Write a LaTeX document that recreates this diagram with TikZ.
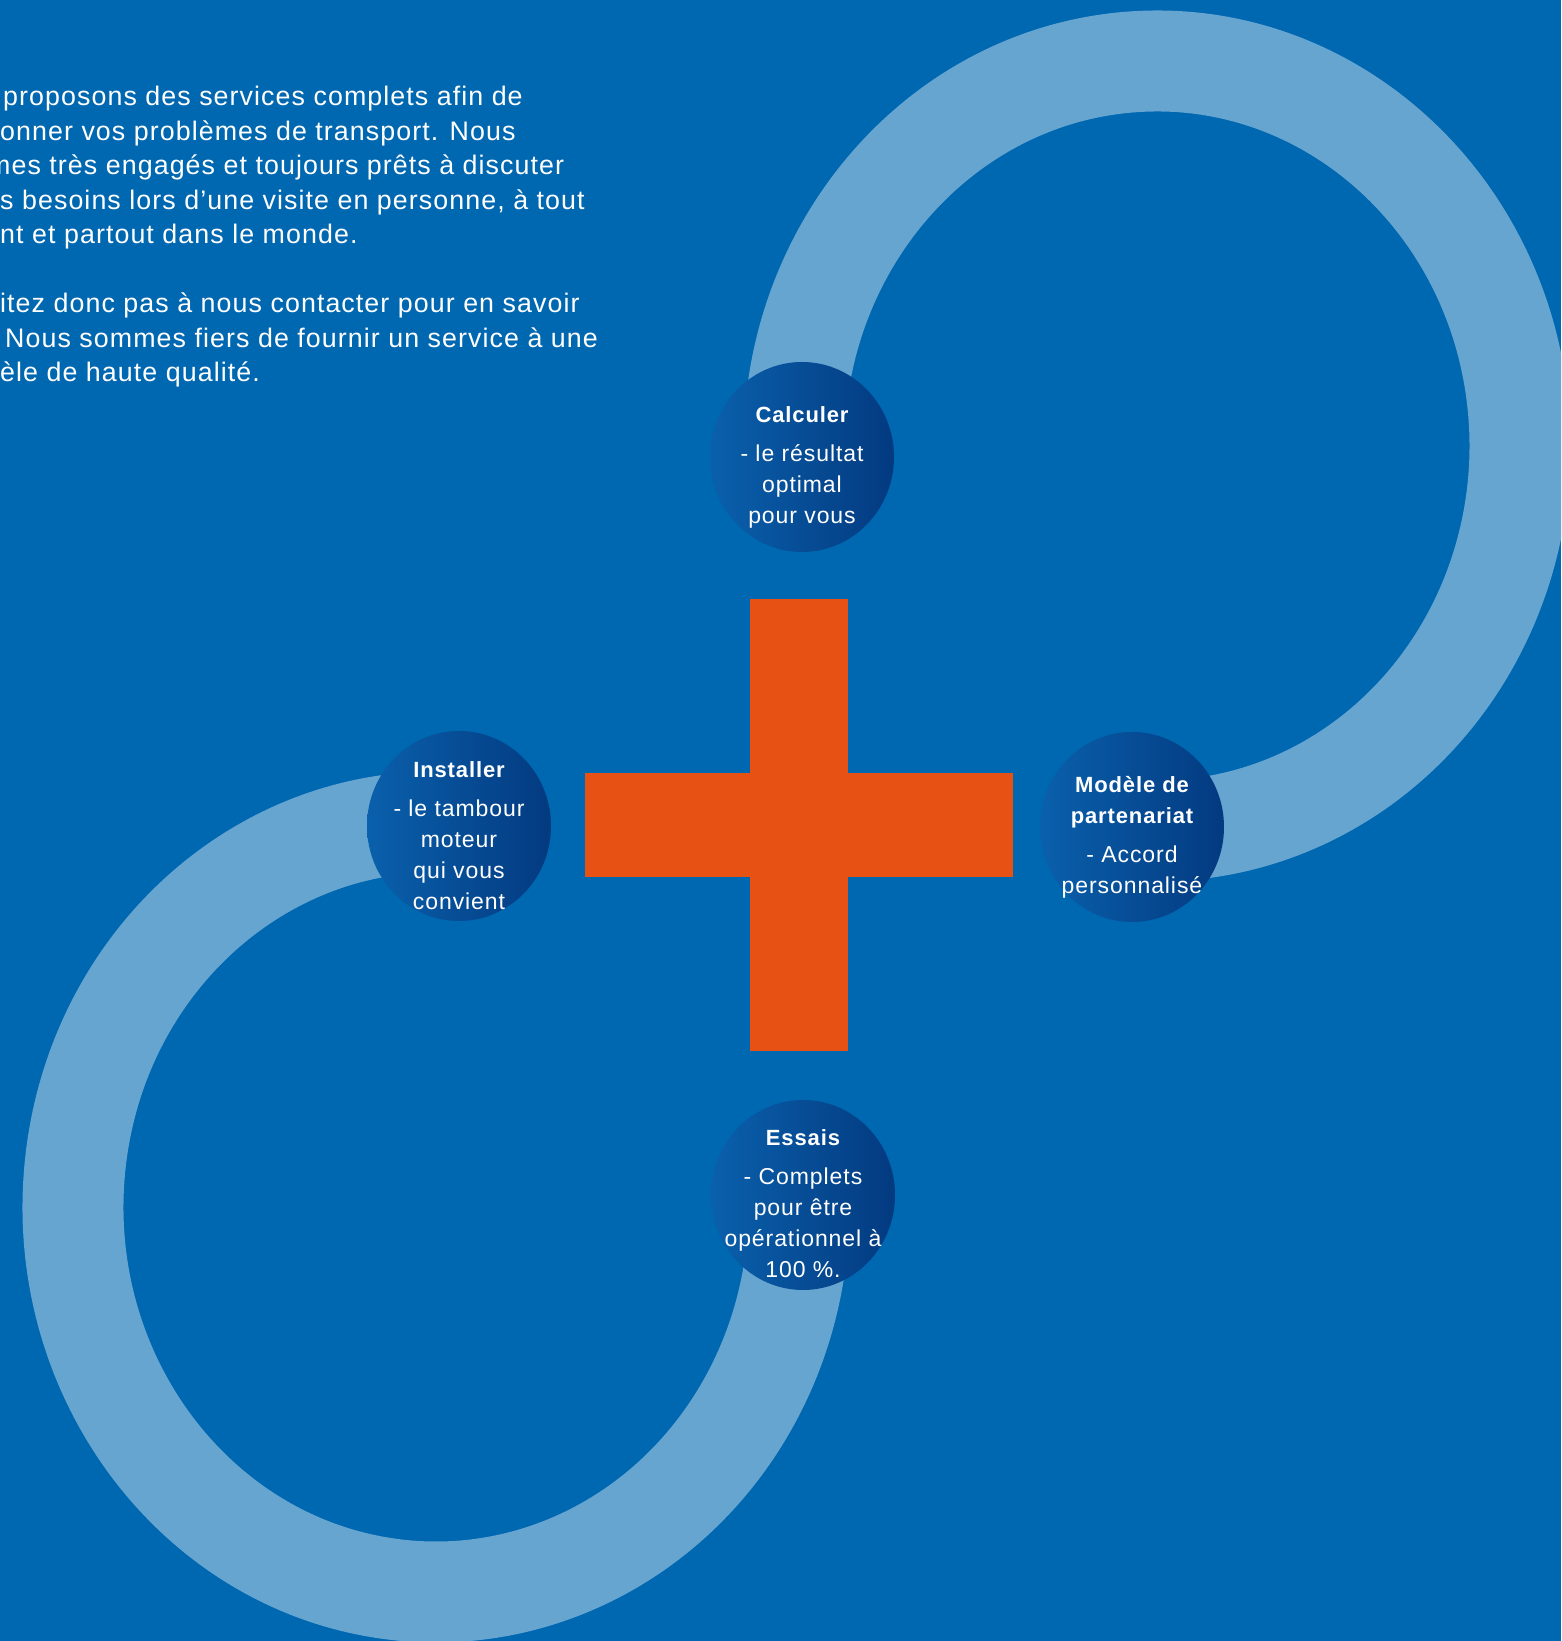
\documentclass[tikz,border=0pt]{standalone}
\usepackage{fontspec}
\setmainfont{Liberation Sans}[LetterSpace=4]
\usetikzlibrary{calc}
\usetikzlibrary{shapes.geometric}

\definecolor{bgblue}{RGB}{0,103,177}
\definecolor{ringblue}{RGB}{103,165,209}
\definecolor{plusorange}{RGB}{232,81,20}
\definecolor{diskleft}{RGB}{10,96,172}
\definecolor{diskright}{RGB}{3,58,128}

\tikzset{
  ring/.style={line width=101pt, ringblue},
  disk/.style={ellipse, inner sep=0pt, minimum width=184pt, minimum height=190pt,
    left color=diskleft, right color=diskright},
  disktext/.style={text=white, align=center, inner sep=0pt, font=\fontsize{23}{31}\selectfont},
  para/.style={text=white, anchor=base west, inner sep=0pt, font=\fontsize{26.8}{34.5}\selectfont}
}
\newcommand{\disktitle}[1]{{\fontsize{22}{31}\selectfont\bfseries #1}}

\begin{document}
\begin{tikzpicture}[x=1pt,y=1pt]
\useasboundingbox (0,0) rectangle (1561,1641);
\clip (0,0) rectangle (1561,1641);
\fill[bgblue] (0,0) rectangle (1561,1641);

% centres of the two rings
\coordinate (U) at (1157,1195);
\coordinate (L) at (436,434);

\draw[ring] ($(U)+(184:363 and 385)$) arc[start angle=184, end angle=-96, x radius=363, y radius=385];
\draw[ring] ($(L)+(84:363 and 385)$) arc[start angle=84, end angle=364, x radius=363, y radius=385];

% the plus
\fill[plusorange] (750,590) rectangle (848,1042);
\fill[plusorange] (585,764) rectangle (1013,868);

\node[disk] (calc) at (802,1184) {};
\node[disk] (inst) at (459,815) {};
\node[disk] (model) at (1132,814) {};
\node[disk] (essais) at (803,446) {};

\node[disktext] (calc-t) at ([yshift=-10pt]calc.center)
  {\disktitle{Calculer}\\[8pt]- le résultat\\optimal\\pour vous};
\node[disktext] (inst-t) at ([yshift=-10pt]inst.center)
  {\disktitle{Installer}\\[8pt]- le tambour\\moteur\\qui vous\\convient};
\node[disktext] (model-t) at ([yshift=-10pt]model.center)
  {\disktitle{Modèle de}\\\disktitle{partenariat}\\[8pt]- Accord\\personnalisé};
\node[disktext] (essais-t) at ([yshift=-9pt]essais.center)
  {\disktitle{Essais}\\[8pt]- Complets\\pour être\\opérationnel à\\100~\%.};

% intro text, cut at the left border
\foreach \k/\x/\txt in {0/3/{proposons des services complets afin de},
                        1/0/{onner vos problèmes de transport. Nous},
                        2/-12/{mes très engagés et toujours prêts à discuter},
                        3/0/{s besoins lors d’une visite en personne, à tout},
                        4/0/{nt et partout dans le monde.},
                        6/0/{itez donc pas à nous contacter pour en savoir},
                        7/5/{Nous sommes fiers de fournir un service à une},
                        8/0/{èle de haute qualité.}}
  \node[para] (line\k) at (\x,{1535-34.5*\k}) {\txt};
\end{tikzpicture}
\end{document}
